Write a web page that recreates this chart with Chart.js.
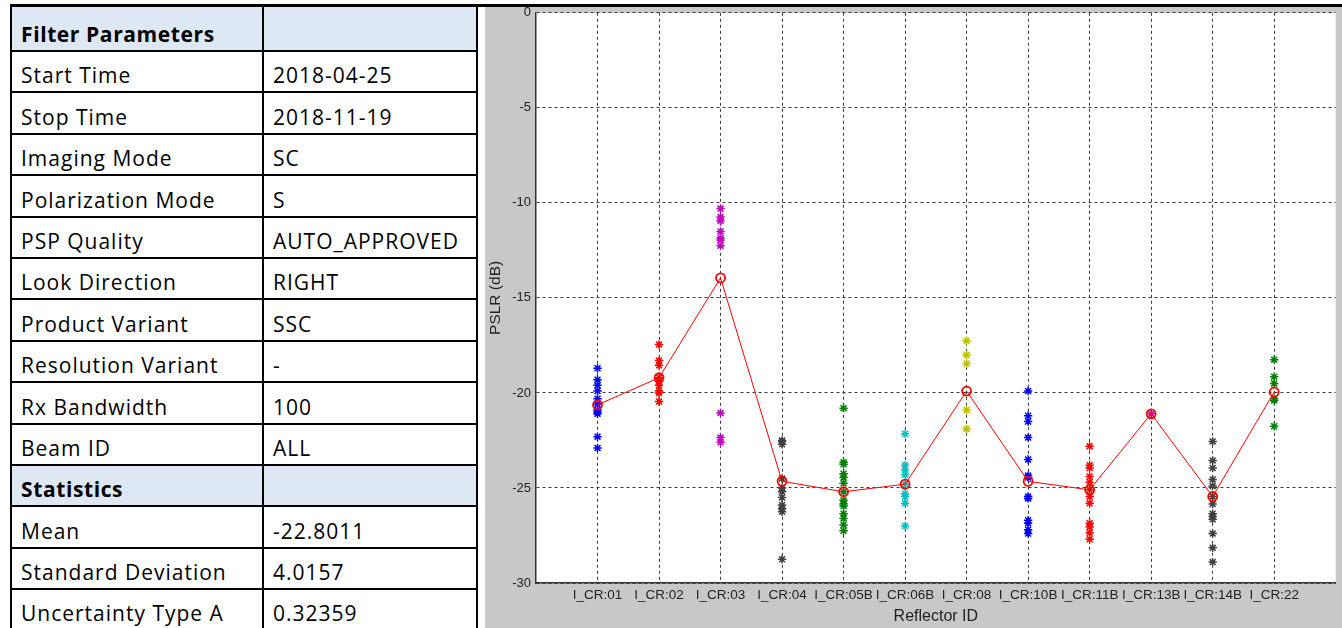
<!DOCTYPE html>
<html>
<head>
<meta charset="utf-8">
<script src="https://cdn.jsdelivr.net/npm/chart.js@4/dist/chart.umd.min.js"></script>
<style>
  html, body { margin: 0; padding: 0; width: 1342px; height: 628px; overflow: hidden; background: #fff; }
  #topline { position: absolute; left: 10px; top: 4px; width: 1332px; height: 3px; background: #000; z-index: 5; }
  #params {
    position: absolute; left: 10px; top: 5px; width: 468px;
    border-collapse: collapse; table-layout: fixed;
    font-family: "Open Sans", Lato, sans-serif; font-size: 21px; letter-spacing: 1px; color: #000;
  }
  #params td {
    border: 2px solid #000; height: 36.4px; padding: 0 9px 3px 9px;
    vertical-align: bottom; line-height: 26px; white-space: nowrap; overflow: hidden;
  }
  #params td:first-child { width: 232px; }
  #params tr.head td { background: #dde8f4; font-weight: bold; letter-spacing: 0.6px; }
  #params tr.first td { height: 40px; }
  #grayBox { position: absolute; left: 485px; top: 7px; width: 857px; height: 621px; background: #c8c8c8; }
  #chartBox { position: absolute; left: 485px; top: 0px; width: 857px; height: 628px; }
</style>
</head>
<body>
<div id="topline"></div>
<table id="params"><tbody id="paramsBody"></tbody></table>
<div id="grayBox"></div>
<div id="chartBox"><canvas id="pslrChart"></canvas></div>
<script>
// tabella parametri
const filterLabels = ['Start Time', 'Stop Time', 'Imaging Mode', 'Polarization Mode', 'PSP Quality',
  'Look Direction', 'Product Variant', 'Resolution Variant', 'Rx Bandwidth', 'Beam ID'];
const filterValues = ['2018-04-25', '2018-11-19', 'SC', 'S', 'AUTO_APPROVED',
  'RIGHT', 'SSC', '-', '100', 'ALL'];
const statLabels = ['Mean', 'Standard Deviation', 'Uncertainty Type A'];
const statValues = ['-22.8011', '4.0157', '0.32359'];

// dati del grafico (PSLR in dB per riflettore)
const categories = ['I_CR:01', 'I_CR:02', 'I_CR:03', 'I_CR:04', 'I_CR:05B', 'I_CR:06B',
  'I_CR:08', 'I_CR:10B', 'I_CR:11B', 'I_CR:13B', 'I_CR:14B', 'I_CR:22'];
const cr01 = [-18.7, -19.3, -19.6, -19.9, -20.3, -20.6, -20.9, -21.0, -21.1, -22.3, -22.9];
const cr02 = [-17.45, -18.3, -18.55, -19.2, -19.4, -19.6, -19.9, -20.0, -20.45];
const cr03 = [-10.3, -10.75, -10.95, -11.5, -11.85, -11.95, -12.25, -21.05, -22.35, -22.6];
const cr04 = [-22.5, -22.55, -22.7, -24.5, -25.0, -25.2, -25.5, -25.9, -26.1, -26.25, -28.75];
const cr05b = [-20.8, -23.65, -23.75, -24.25, -24.45, -24.75, -25.2, -25.65, -25.85, -25.95, -26.35, -26.6, -26.95, -27.25];
const cr06b = [-22.15, -23.8, -24.05, -24.3, -24.8, -25.3, -25.45, -25.8, -27.0];
const cr08 = [-17.25, -18.0, -18.45, -20.9, -21.9];
const cr10b = [-19.9, -21.2, -21.5, -22.35, -23.5, -24.35, -24.45, -25.45, -25.55, -26.7, -26.85, -27.2, -27.4];
const cr11b = [-22.8, -23.8, -23.95, -24.4, -24.7, -25.1, -25.45, -25.8, -26.85, -27.05, -27.35, -27.7];
const cr13b = [-21.1];
const cr14b = [-22.55, -23.55, -23.95, -24.55, -24.9, -25.45, -25.85, -26.35, -26.5, -26.65, -27.4, -28.15, -28.9];
const cr22 = [-18.25, -19.15, -19.5, -20.3, -20.4, -21.75];
const means = [-20.63, -19.2, -13.95, -24.65, -25.2, -24.8, -19.9, -24.65, -25.1, -21.1, -25.45, -19.95];
const yTicks = [-30, -25, -20, -15, -10, -5, 0];

const seriesValues = [cr01, cr02, cr03, cr04, cr05b, cr06b, cr08, cr10b, cr11b, cr13b, cr14b, cr22];
const seriesColors = ['#0000ff', '#ff0000', '#bf00bf', '#404040', '#008000', '#00bfbf',
  '#bfbf00', '#0000ff', '#ff0000', '#bf00bf', '#404040', '#008000'];

// costruzione della tabella
const tbody = document.getElementById('paramsBody');
function addRow(a, b, cls) {
  const tr = document.createElement('tr');
  if (cls) tr.className = cls;
  [a, b].forEach(t => { const td = document.createElement('td'); td.textContent = t; tr.appendChild(td); });
  tbody.appendChild(tr);
}
addRow('Filter Parameters', '', 'head first');
filterLabels.forEach((l, i) => addRow(l, filterValues[i]));
addRow('Statistics', '', 'head');
statLabels.forEach((l, i) => addRow(l, statValues[i]));

// sfondo bianco solo dentro l'area del grafico
const plotBackground = {
  id: 'plotBackground',
  beforeDraw(chart) {
    const { ctx, chartArea: a } = chart;
    ctx.save();
    ctx.fillStyle = '#ffffff';
    ctx.fillRect(a.left, a.top, a.right - a.left, a.bottom - a.top);
    ctx.restore();
  }
};

const datasets = [{
  type: 'line',
  data: categories.map((c, i) => ({ x: i + 1, y: means[i] })),
  borderColor: '#ff0000',
  borderWidth: 1,
  pointStyle: 'circle',
  pointRadius: 4.5,
  pointBorderWidth: 1.8,
  pointBackgroundColor: 'rgba(0,0,0,0)',
  pointBorderColor: '#ff0000',
  tension: 0,
  order: 0
}];
seriesValues.forEach((vals, i) => {
  datasets.push({
    type: 'scatter',
    data: vals.map(v => ({ x: i + 1, y: v })),
    borderColor: seriesColors[i],
    backgroundColor: seriesColors[i],
    pointStyle: 'star',
    pointRadius: 4.2,
    borderWidth: 1.5,
    order: 1
  });
});

const fontFamily = '"Liberation Sans", Arial, sans-serif';

new Chart(document.getElementById('pslrChart').getContext('2d'), {
  data: { datasets: datasets },
  plugins: [plotBackground],
  options: {
    responsive: true,
    maintainAspectRatio: false,
    animation: false,
    layout: { padding: { left: 0, top: 0, right: 2, bottom: 0 } },
    plugins: { legend: { display: false }, tooltip: { enabled: false } },
    scales: {
      x: {
        type: 'linear',
        min: 0,
        max: 13,
        afterBuildTicks: axis => { axis.ticks = categories.map((c, i) => ({ value: i + 1 })); },
        afterFit: scale => { scale.height = 45; },
        ticks: {
          autoSkip: false, maxRotation: 0, padding: 4, color: '#222',
          font: { family: fontFamily, size: 13.5 },
          callback: v => categories[v - 1]
        },
        grid: { color: '#3a3a3a', lineWidth: 1, drawTicks: false },
        border: { display: true, color: '#333', width: 1.5, dash: [3, 3] },
        title: { display: true, text: 'Reflector ID', color: '#222',
          font: { family: fontFamily, size: 16 }, padding: { top: 0, bottom: 2 } }
      },
      y: {
        min: -30,
        max: 0,
        afterBuildTicks: axis => { axis.ticks = yTicks.map(v => ({ value: v })); },
        afterFit: scale => { scale.width = 51; },
        ticks: { padding: 5, color: '#222', font: { family: fontFamily, size: 13 } },
        grid: { color: '#3a3a3a', lineWidth: 1, drawTicks: false },
        border: { display: true, color: '#333', width: 1.5, dash: [3, 3] },
        title: { display: true, text: 'PSLR (dB)', color: '#222',
          font: { family: fontFamily, size: 15.5 }, padding: { top: 1, bottom: 0 } }
      }
    }
  }
});
</script>
</body>
</html>
